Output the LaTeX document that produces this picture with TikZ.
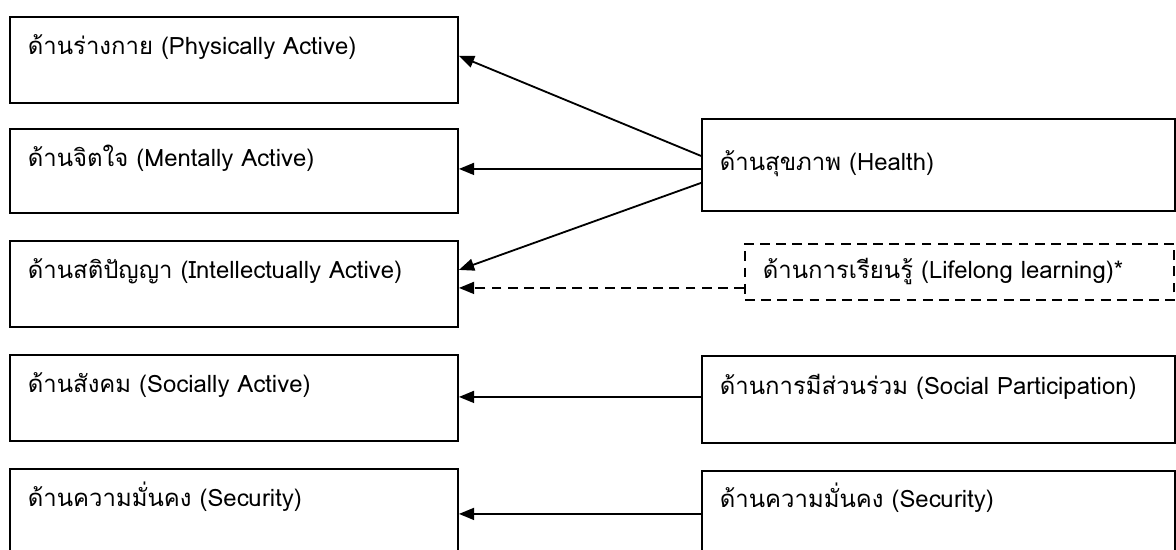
\documentclass[tikz,border=0pt]{standalone}
\usepackage{fontspec}
\newfontfamily\thaifont[Script=Thai]{Loma}
\usetikzlibrary{arrows.meta}
\tikzset{
  aspect/.style={draw, line width=1.3pt, anchor=north west, align=left,
    inner xsep=0.45cm, inner ysep=0pt, font=\thaifont\fontsize{17}{20}\selectfont},
  link/.style={line width=1.3pt, -{Triangle[length=0.38cm,width=0.3cm]}},
  dashes/.style={dash pattern=on 7pt off 4.5pt},
}
\newcommand{\AspectBox}[6]{%
  node (#1) [aspect, #2, text width=#3, text height=#4, text depth=#5] {#6};
}

\begin{document}
\begin{tikzpicture}[x=0.025cm, y=-0.025cm]
    \useasboundingbox (0,0) rectangle (1176,550);

    % left column
    \draw (9,16) \AspectBox{physical}{}{10.3cm}{0.95cm}{1.2cm}
      {ด้านร่างกาย (Physically Active)}
    \draw (9,128) \AspectBox{mental}{}{10.3cm}{0.95cm}{1.15cm}
      {ด้านจิตใจ (Mentally Active)}
    \draw (9,240) \AspectBox{intellect}{}{10.3cm}{0.95cm}{1.2cm}
      {ด้านสติปัญญา (Intellectually Active)}
    \draw (9,354) \AspectBox{social}{}{10.3cm}{0.95cm}{1.2cm}
      {ด้านสังคม (Socially Active)}
    \draw (9,468) \AspectBox{secureL}{}{10.3cm}{0.95cm}{1.2cm}
      {ด้านความมั่นคง (Security)}

    % right column
    \draw (701,118) \AspectBox{health}{}{10.925cm}{1.3cm}{1.0cm}
      {ด้านสุขภาพ (Health)}
    \draw (744,243) \AspectBox{learning}{dashes}{9.825cm}{0.875cm}{0.525cm}
      {ด้านการเรียนรู้ (Lifelong learning)*}
    \draw (701,355) \AspectBox{partake}{}{10.925cm}{0.975cm}{1.2cm}
      {ด้านการมีส่วนร่วม (Social Participation)}
    \draw (701,470) \AspectBox{secureR}{}{10.925cm}{0.925cm}{1.325cm}
      {ด้านความมั่นคง (Security)}

    \draw[link] ([yshift=0.225cm]health.west) -- ([yshift=0.1cm]physical.east);
    \draw[link] ([yshift=-0.1cm]health.west) -- ([yshift=-0.1cm]health.west -| mental.east);
    \draw[link] ([yshift=-0.45cm]health.west) -- ([yshift=0.35cm]intellect.east);
    \draw[link, dashes]
      ([yshift=-0.4cm]learning.west) -- ([yshift=-0.4cm]learning.west -| intellect.east);
    \draw[link] ([yshift=0.0625cm]partake.west) -- ([yshift=0.0625cm]partake.west -| social.east);
    \draw[link] ([yshift=0.05cm]secureR.west) -- ([yshift=0.05cm]secureR.west -| secureL.east);
  \end{tikzpicture}
\end{document}
